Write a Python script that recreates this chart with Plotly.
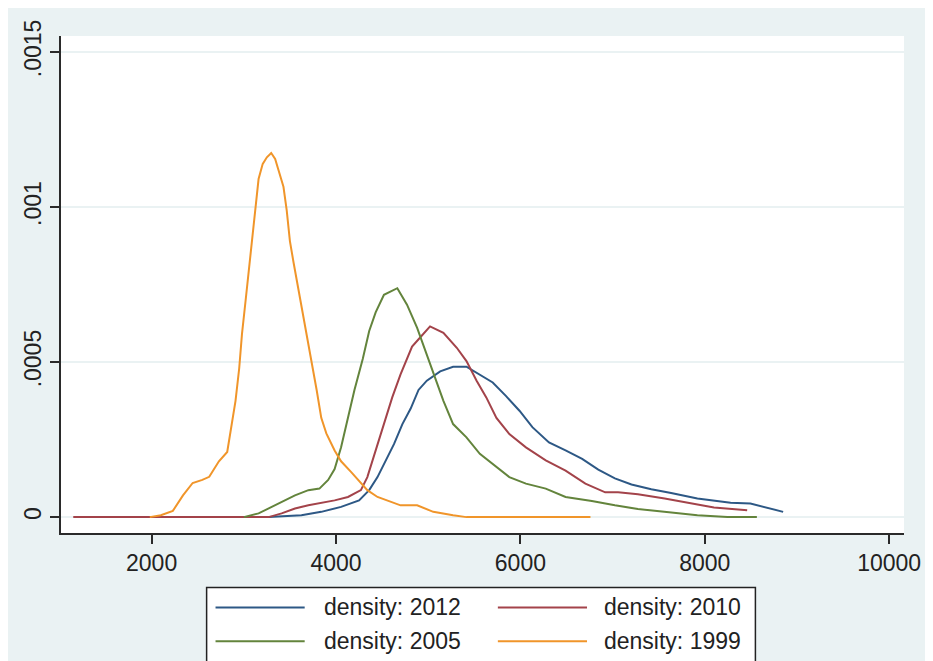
import plotly.graph_objects as go

# ---- data ----
x_2012 = [3270, 3485, 3625, 3840, 4055, 4250, 4360, 4450, 4540, 4630, 4720, 4810, 4895, 4985,
          5130, 5270, 5415, 5560, 5700, 5845, 5990, 6130, 6310, 6490, 6670, 6845, 7025, 7205,
          7420, 7635, 7920, 8280, 8495, 8850]
y_2012 = [0, 0.03, 0.06, 0.17, 0.33, 0.54, 0.87, 1.29, 1.8, 2.36, 3.0, 3.5, 4.1, 4.4,
          4.7, 4.85, 4.85, 4.6, 4.34, 3.9, 3.43, 2.9, 2.41, 2.15, 1.88, 1.53, 1.25, 1.05,
          0.9, 0.78, 0.6, 0.46, 0.44, 0.17]

x_2010 = [1150, 3270, 3410, 3555, 3700, 3805, 3985, 4130, 4270, 4340, 4430, 4520, 4610, 4700,
          4770, 4825, 4915, 5020, 5165, 5310, 5415, 5525, 5630, 5740, 5880, 6060, 6275, 6490,
          6705, 6920, 7060, 7275, 7565, 7850, 8100, 8460]
y_2010 = [0, 0, 0.12, 0.28, 0.38, 0.44, 0.54, 0.65, 0.87, 1.29, 2.15, 3.0, 3.86, 4.6,
          5.14, 5.5, 5.8, 6.15, 5.94, 5.46, 5.03, 4.4, 3.86, 3.2, 2.68, 2.25, 1.83, 1.5,
          1.08, 0.8, 0.8, 0.74, 0.6, 0.44, 0.31, 0.22]

x_2005 = [3000, 3160, 3270, 3410, 3555, 3700, 3820, 3915, 3985, 4055, 4130, 4200, 4290, 4360,
          4430, 4520, 4665, 4770, 4880, 4970, 5060, 5165, 5270, 5415, 5560, 5700, 5880, 6060,
          6275, 6490, 6775, 7025, 7275, 7560, 7920, 8245, 8565]
y_2005 = [0, 0.12, 0.28, 0.49, 0.7, 0.87, 0.92, 1.2, 1.55, 2.25, 3.2, 4.1, 5.1, 6.0,
          6.6, 7.17, 7.38, 6.85, 6.1, 5.35, 4.6, 3.75, 3.0, 2.57, 2.04, 1.72, 1.29, 1.08,
          0.92, 0.65, 0.52, 0.38, 0.26, 0.17, 0.06, 0, 0]

x_1999 = [1980, 2100, 2230, 2340, 2445, 2550, 2625, 2730, 2820, 2855, 2910, 2950, 2980, 3020,
          3055, 3090, 3125, 3160, 3205, 3250, 3297, 3340, 3375, 3430, 3465, 3500, 3540, 3580,
          3620, 3680, 3735, 3790, 3840, 3895, 3985, 4055, 4165, 4340, 4450, 4700, 4880, 5055,
          5270, 5415, 6760]
y_1999 = [0, 0.06, 0.2, 0.7, 1.1, 1.2, 1.3, 1.8, 2.1, 2.7, 3.75, 4.8, 5.9, 7.0,
          8.0, 8.9, 9.8, 10.9, 11.39, 11.6, 11.74, 11.55, 11.2, 10.65, 9.9, 8.9, 8.2, 7.55,
          6.95, 5.9, 5.0, 4.1, 3.2, 2.7, 2.15, 1.8, 1.45, 0.87, 0.65, 0.38, 0.38, 0.17,
          0.06, 0, 0]
y_scale = 1e-4  # y values above are in units of 1e-4

series_names = ["density: 2012", "density: 2010", "density: 2005", "density: 1999"]
series_colors = ["#2d5885", "#a3434a", "#63843c", "#f0952a"]

y_tickvals = [0, 0.0005, 0.001, 0.0015]
y_ticktext = ["0", ".0005", ".001", ".0015"]
x_tickvals = [2000, 4000, 6000, 8000, 10000]
x_ticktext = ["2000", "4000", "6000", "8000", "10000"]

xs = [x_2012, x_2010, x_2005, x_1999]
ys = [y_2012, y_2010, y_2005, y_1999]

FONT = "Liberation Sans, Arial, sans-serif"

fig = go.Figure()
for name, col, x, y in zip(series_names, series_colors, xs, ys):
    fig.add_trace(go.Scatter(
        x=x, y=[v * y_scale for v in y], mode="lines", name=name,
        line=dict(color=col, width=2), showlegend=False,
    ))

# page body adds an 8px offset; size the figure so it fits the 933x661 window
fig.update_layout(
    width=925, height=653,
    margin=dict(l=49, r=25, t=24, b=128),
    paper_bgcolor="#eaf2f3",
    plot_bgcolor="#ffffff",
    font=dict(family=FONT, size=23, color="#222222"),
    xaxis=dict(
        range=[1017, 10161], tickvals=x_tickvals, ticktext=x_ticktext,
        showgrid=False, zeroline=False, showline=True, linecolor="#2a2a2a", linewidth=1.5,
        ticks="outside", ticklen=9, tickwidth=1.5, tickcolor="#2a2a2a",
        tickfont=dict(family=FONT, size=23, color="#222222"),
    ),
    yaxis=dict(
        range=[-0.0000512, 0.0015512], tickvals=y_tickvals, ticktext=y_ticktext,
        showgrid=True, gridcolor="#eaf2f3", gridwidth=1.5, zeroline=False,
        showline=True, linecolor="#2a2a2a", linewidth=1.5,
        ticks="outside", ticklen=9, tickwidth=1.5, tickcolor="#2a2a2a",
        tickangle=-90,
        tickfont=dict(family=FONT, size=23, color="#222222"),
    ),
)

# ---- manual legend (Stata style); positions in window pixels ----
W, H = 851.0, 501.0     # plot area size in px
L, T = 57.0, 32.0       # plot area top-left in window pixels


def px_x(p):
    return (p - L) / W


def px_y(p):
    return (T + H - p) / H


fig.add_shape(type="rect", xref="paper", yref="paper",
              x0=px_x(204), x1=px_x(758), y0=px_y(588), y1=px_y(680),
              line=dict(color="#222222", width=1.5), fillcolor="#ffffff", layer="above")

rows = [608, 642]
cols = [(213, 303, 320), (498, 588, 603)]
for i, (name, col) in enumerate(zip(series_names, series_colors)):
    r, c = divmod(i, 2)
    x0, x1, xt = cols[c]
    yy = rows[r]
    fig.add_shape(type="line", xref="paper", yref="paper",
                  x0=px_x(x0), x1=px_x(x1), y0=px_y(yy), y1=px_y(yy),
                  line=dict(color=col, width=2), layer="above")
    fig.add_annotation(xref="paper", yref="paper", x=px_x(xt), y=px_y(yy),
                       text=name, showarrow=False, xanchor="left", yanchor="middle",
                       font=dict(family=FONT, size=23, color="#222222"))

fig.write_html("out.html")
